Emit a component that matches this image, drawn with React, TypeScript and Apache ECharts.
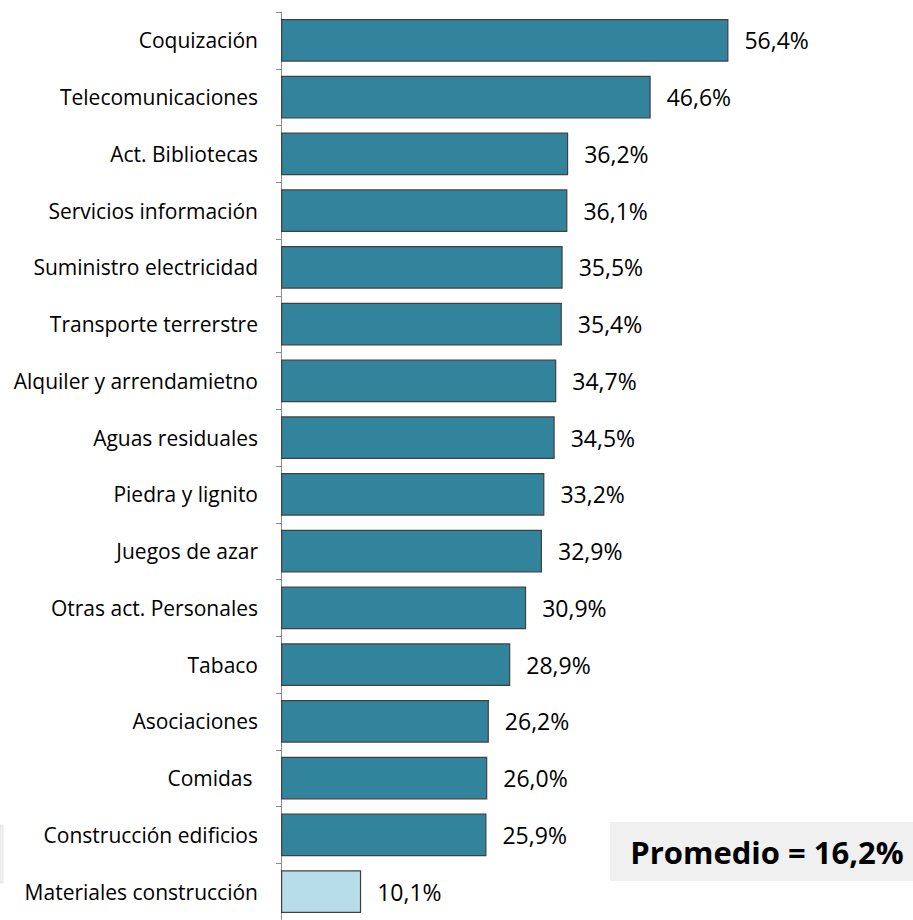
import React, { useEffect, useRef } from "react";
import * as echarts from "echarts";

const categories = [
  "Coquización",
  "Telecomunicaciones",
  "Act. Bibliotecas",
  "Servicios información",
  "Suministro electricidad",
  "Transporte terrerstre",
  "Alquiler y arrendamietno",
  "Aguas residuales",
  "Piedra y lignito",
  "Juegos de azar",
  "Otras act. Personales",
  "Tabaco",
  "Asociaciones",
  "Comidas ",
  "Construcción edificios",
  "Materiales construcción",
];
const values = [56.4, 46.6, 36.2, 36.1, 35.5, 35.4, 34.7, 34.5, 33.2, 32.9, 30.9, 28.9, 26.2, 26.0, 25.9, 10.1];
const highlighted = ["Materiales construcción"];
const averageText = "Promedio = 16,2%";

const FONT = "'Open Sans', sans-serif";

export default function App() {
  const ref = useRef<HTMLDivElement>(null);
  useEffect(() => {
    document.body.style.margin = "0";
    const chart = echarts.init(ref.current!, null, { renderer: "svg" });
    chart.setOption({
      animation: false,
      backgroundColor: "#ffffff",
      grid: { left: 281, top: 12, width: 476, height: 912, containLabel: false },
      xAxis: {
        type: "value",
        min: 0,
        max: 60,
        show: false,
      },
      yAxis: {
        type: "category",
        data: categories,
        inverse: true,
        axisLine: { show: true, lineStyle: { color: "#8c8c8c", width: 1 } },
        axisTick: { show: true, length: 5, lineStyle: { color: "#8c8c8c" } },
        axisLabel: { margin: 23, color: "#000", fontFamily: FONT, fontSize: 21 },
      },
      series: [
        {
          type: "bar",
          barCategoryGap: "25%",
          data: values.map((v, i) => ({
            value: v,
            itemStyle: {
              color: highlighted.includes(categories[i]) ? "#b7dde8" : "#31849b",
              borderColor: "#404040",
              borderWidth: 1.2,
            },
          })),
          label: {
            show: true,
            position: "right",
            distance: 16,
            color: "#000",
            fontFamily: FONT,
            fontSize: 23,
            formatter: (p: any) => p.value.toFixed(1).replace(".", ",") + "%",
          },
        },
      ],
      graphic: [
        { type: "rect", shape: { x: 610, y: 822, width: 303, height: 59 }, style: { fill: "#f0f0f0" } },
        {
          type: "text",
          x: 767,
          y: 852,
          style: {
            text: averageText,
            fontFamily: FONT,
            fontWeight: "bold",
            fontSize: 31,
            fill: "#000",
            align: "center",
            verticalAlign: "middle",
          },
        },
        { type: "rect", shape: { x: 0, y: 825, width: 3, height: 58 }, style: { fill: "#f2f2f2", stroke: "#e4e4e4", lineWidth: 1 } },
      ],
    });
    return () => chart.dispose();
  }, []);
  return <div ref={ref} style={{ width: 913, height: 920 }} />;
}
